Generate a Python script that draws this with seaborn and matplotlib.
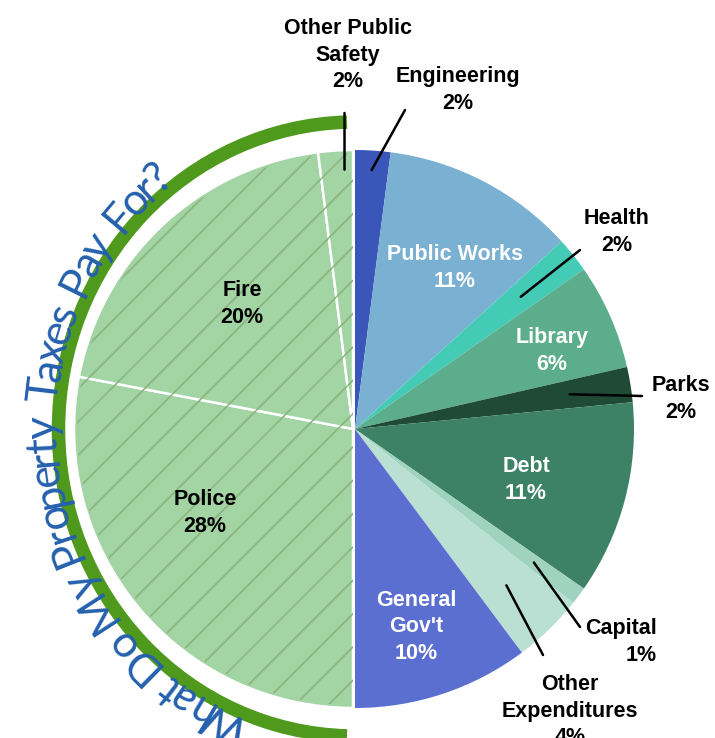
import numpy as np
import matplotlib.pyplot as plt
import seaborn as sns
from matplotlib import patches, font_manager
from matplotlib.ft2font import FT2Font

# Property tax pie - right half: city services, left half: public safety
right_names = ["Engineering", "Public Works", "Health", "Library", "Parks",
               "Debt", "Capital", "Other\nExpenditures", "General\nGov't"]
right_pct = [2, 11, 2, 6, 2, 11, 1, 4, 10]
right_colors = ["#3b56b9", "#7ab0d2", "#43cbb5", "#5cad8c", "#1e4a36",
                "#3d8167", "#9fd2bf", "#b9e0d3", "#5b6fd0"]

left_names = ["Police", "Fire", "Other Public\nSafety"]
left_pct = [28, 20, 2]
left_color = "#a2d4a4"

title = "What Do My Property Taxes Pay For?"

W, H = 715, 738

sns.set_theme(style="white")
plt.rcParams['font.family'] = ['Liberation Sans Narrow', 'Liberation Sans', 'DejaVu Sans']
plt.rcParams['hatch.linewidth'] = 1.2


def img(x, y):
    # picture pixel coords -> data coords (y up)
    return (x, H - y)


fig = plt.figure(figsize=(W / 100, H / 100), dpi=100)
ax = fig.add_axes([0, 0, 1, 1])

cx, cy = img(355, 429)
R = 279

# right half
right_w, _ = ax.pie(np.array(right_pct) / (2 * sum(right_pct)), colors=right_colors,
                    startangle=90, counterclock=False, center=(cx, cy), radius=R,
                    normalize=False, wedgeprops=dict(linewidth=0))
# left half, slightly pulled apart
left_w, _ = ax.pie(np.array(left_pct) / (2 * sum(left_pct)), colors=[left_color] * 3,
                   startangle=270, counterclock=False, center=(cx - 2, cy), radius=R,
                   normalize=False, wedgeprops=dict(edgecolor="white", linewidth=1.8))
# scribble texture on public safety
ax.pie(np.array(left_pct) / (2 * sum(left_pct)), colors=["none"] * 3,
       startangle=270, counterclock=False, center=(cx - 2, cy), radius=R - 3,
       normalize=False, wedgeprops=dict(edgecolor="#8ab47c", linewidth=0, hatch="/"))

ax.set_xlim(0, W)
ax.set_ylim(0, H)
ax.axis("off")

# green band around public safety
band = patches.Arc((cx, cy), width=2 * 296.5, height=2 * 307, theta1=91.5, theta2=268.5,
                   linewidth=13.5 * 0.72, color="#4f9a1c", capstyle="butt")
ax.add_patch(band)

# curved title along the band
title_font = "Lato"
fp = font_manager.FontProperties(family=title_font)
ft = FT2Font(font_manager.findfont(fp))
ft.set_size(100, 72)
adv = np.array([ft.load_char(ord(c)).linearHoriAdvance / 65536 / 100 for c in title])
adv[np.array(list(title)) == " "] *= 1.7
mid = np.cumsum(adv) - adv / 2
mid = mid - mid[0]
t = np.radians(np.linspace(245.5, 129, 3000))
ea, eb = 299, 310
ex = cx + ea * np.cos(t)
ey = cy + eb * np.sin(t)
s = np.concatenate([[0], np.cumsum(np.hypot(np.diff(ex), np.diff(ey)))])
em_px = s[-1] / mid[-1]
for ch, m in zip(title, mid):
    if ch == " ":
        continue
    ti = np.interp(m * em_px, s, t)
    rot = np.degrees(np.arctan2(-eb * np.cos(ti), ea * np.sin(ti)))
    ax.text(cx + ea * np.cos(ti), cy + eb * np.sin(ti), ch, family=title_font,
            fontsize=em_px * 0.72 * 1.2, color="#2560ae", rotation=rot,
            rotation_mode="anchor", ha="center", va="baseline", zorder=5)


def wedge_point(w, frac, pos=0.5):
    th = np.radians(w.theta1 + pos * (w.theta2 - w.theta1))
    return (w.center[0] + w.r * frac * np.cos(th), w.center[1] + w.r * frac * np.sin(th))


# labels: (x, y, color, ha) in picture pixels
right_layout = [(458, 90, "black", "center"), (455, 268, "white", "center"),
                (617, 232, "black", "center"), (552, 351, "white", "center"),
                (681, 399, "black", "center"), (526, 480, "white", "center"),
                (657, 642, "black", "right"), (570, 711, "black", "center"),
                (416, 627, "white", "center")]
left_layout = [(205, 513, "black", "center"), (242, 304, "black", "center"),
               (348, 55, "black", "center")]

for name, pct, (x, y, col, ha) in zip(right_names + left_names, right_pct + left_pct,
                                      right_layout + left_layout):
    ax.text(*img(x, y), f"{name}\n{pct}%", color=col, ha=ha, va="center",
            fontsize=15.5, fontweight="bold", linespacing=1.35, zorder=6)

# leader lines: name -> (radius frac, position in wedge, label end)
leaders = {"Engineering": (0.93, 0.5, (405, 110)),
           "Health": (0.76, 0.5, (580, 250)),
           "Parks": (0.78, 0.5, (642, 396)),
           "Capital": (0.8, 0.5, (580, 627)),
           "Other\nExpenditures": (0.78, 0.5, (543, 655))}
for name, (frac, pos, end) in leaders.items():
    w = right_w[right_names.index(name)]
    ax.annotate("", xy=wedge_point(w, frac, pos), xytext=img(*end),
                arrowprops=dict(arrowstyle="-", color="black", lw=1.8,
                                shrinkA=0, shrinkB=0), zorder=6)

ops = wedge_point(left_w[2], 0.93, 0.26)
ax.annotate("", xy=ops, xytext=(ops[0], img(0, 113)[1]),
            arrowprops=dict(arrowstyle="-", color="black", lw=1.8, shrinkA=0, shrinkB=0),
            zorder=6)

plt.savefig("out.png", dpi=100)
